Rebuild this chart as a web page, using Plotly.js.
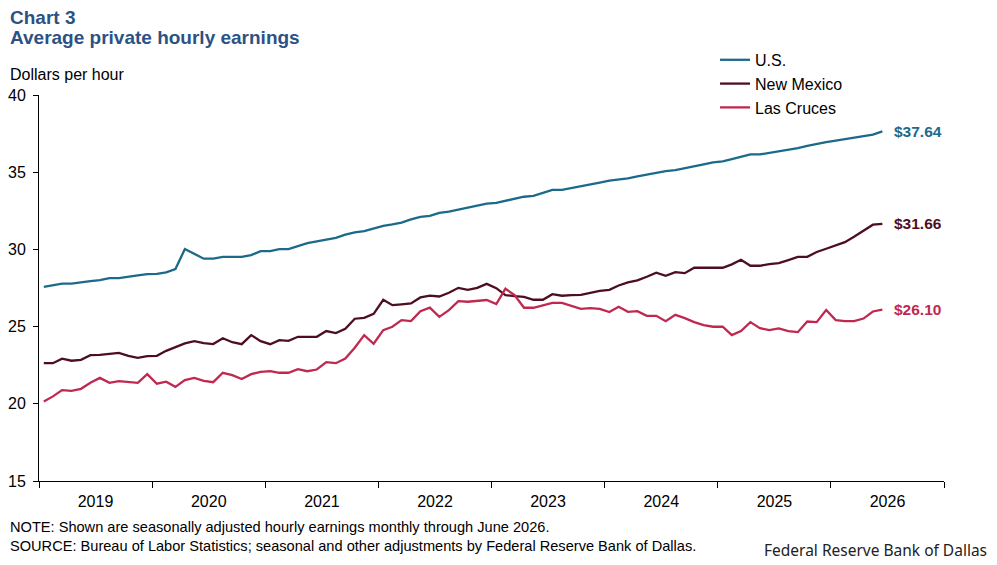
<!DOCTYPE html>
<html>
<head>
<meta charset="utf-8">
<script src="https://cdn.plot.ly/plotly-3.0.1.min.js"></script>
<style>
html,body{margin:0;padding:0;background:#fff;}
#chart{width:997px;height:565px;}
</style>
</head>
<body>
<div id="chart"></div>
<script>
// Monthly, Jan 2019 - Jun 2026
var startYear = 2019, startMonth = 1, nMonths = 90;
var months = [];
for (var k = 0; k < nMonths; k++) {
  var y = startYear + Math.floor((startMonth - 1 + k) / 12);
  var m = ((startMonth - 1 + k) % 12) + 1;
  months.push(y + '-' + (m < 10 ? '0' + m : m) + '-01');
}

var seriesNames = ['U.S.', 'New Mexico', 'Las Cruces'];

var usValues = [
  27.58, 27.69, 27.78, 27.78, 27.88, 27.95, 28.01, 28.14, 28.14, 28.21, 28.32, 28.40,
  28.42, 28.51, 28.73, 30.02, 29.72, 29.40, 29.40, 29.52, 29.52, 29.52, 29.63, 29.89,
  29.89, 30.02, 30.02, 30.21, 30.41, 30.52, 30.65, 30.75, 30.95, 31.10, 31.19, 31.36,
  31.53, 31.62, 31.73, 31.94, 32.11, 32.17, 32.37, 32.44, 32.57, 32.70, 32.83, 32.96,
  33.02, 33.15, 33.28, 33.41, 33.47, 33.67, 33.86, 33.86, 33.97, 34.06, 34.19, 34.32,
  34.45, 34.52, 34.60, 34.73, 34.84, 34.97, 35.07, 35.14, 35.25, 35.38, 35.51, 35.64,
  35.70, 35.85, 36.00, 36.15, 36.15, 36.24, 36.33, 36.43, 36.56, 36.71, 36.84, 36.95,
  37.04, 37.14, 37.23, 37.36, 37.43, 37.64
];

var nmValues = [
  22.63, 22.63, 22.92, 22.79, 22.85, 23.15, 23.17, 23.24, 23.30, 23.11, 22.98, 23.09,
  23.11, 23.43, 23.69, 23.91, 24.06, 23.93, 23.87, 24.25, 23.99, 23.86, 24.45, 24.06,
  23.86, 24.12, 24.08, 24.34, 24.34, 24.34, 24.71, 24.58, 24.86, 25.51, 25.57, 25.83,
  26.74, 26.39, 26.44, 26.50, 26.89, 27.01, 26.95, 27.19, 27.51, 27.38, 27.51, 27.77,
  27.49, 27.04, 26.97, 26.93, 26.74, 26.74, 27.10, 27.00, 27.04, 27.06, 27.19, 27.32,
  27.38, 27.66, 27.86, 27.99, 28.23, 28.49, 28.29, 28.53, 28.46, 28.81, 28.81, 28.81,
  28.81, 29.03, 29.33, 28.94, 28.94, 29.05, 29.11, 29.31, 29.52, 29.52, 29.83, 30.04,
  30.28, 30.47, 30.82, 31.23, 31.60, 31.66
];

var lcValues = [
  20.15, 20.48, 20.89, 20.84, 20.97, 21.36, 21.68, 21.36, 21.47, 21.43, 21.36, 21.92,
  21.30, 21.43, 21.10, 21.53, 21.68, 21.49, 21.40, 22.01, 21.86, 21.60, 21.92, 22.07,
  22.11, 22.01, 22.01, 22.24, 22.11, 22.22, 22.70, 22.63, 22.93, 23.63, 24.45, 23.89,
  24.77, 24.99, 25.42, 25.36, 26.00, 26.23, 25.63, 26.07, 26.65, 26.61, 26.65, 26.72,
  26.46, 27.45, 27.04, 26.22, 26.22, 26.37, 26.54, 26.54, 26.35, 26.15, 26.20, 26.15,
  25.94, 26.28, 25.96, 26.00, 25.70, 25.70, 25.35, 25.76, 25.55, 25.29, 25.09, 24.99,
  24.99, 24.45, 24.71, 25.29, 24.90, 24.77, 24.88, 24.71, 24.64, 25.33, 25.29, 26.07,
  25.42, 25.35, 25.35, 25.52, 25.98, 26.10
];

var yTicks = [15, 20, 25, 30, 35, 40];

var colors = ['#1b6a89', '#4d0f1f', '#c0294f'];
var allValues = [usValues, nmValues, lcValues];
var FONT = 'Liberation Sans, Arial, sans-serif';

var traces = allValues.map(function (vals, i) {
  return {
    type: 'scatter', mode: 'lines',
    x: months, y: vals,
    xperiod: 'M1', xperiodalignment: 'middle',
    name: seriesNames[i],
    line: {color: colors[i], width: 2.3},
    hoverinfo: 'x+y'
  };
});

var annotations = allValues.map(function (vals, i) {
  return {
    xref: 'x', yref: 'y',
    x: '2026-06-16', y: vals[vals.length - 1],
    text: '$' + vals[vals.length - 1].toFixed(2),
    showarrow: false, xanchor: 'left', yanchor: 'middle', xshift: 10,
    font: {family: FONT, size: 15.5, color: colors[i], weight: 'bold'}
  };
});

annotations.push(
  {xref: 'paper', yref: 'paper', x: -0.034, y: 1.202, xanchor: 'left', yanchor: 'middle',
   text: 'Chart 3', showarrow: false, font: {family: FONT, size: 19, color: '#2c5285', weight: 'bold'}},
  {xref: 'paper', yref: 'paper', x: -0.034, y: 1.148, xanchor: 'left', yanchor: 'middle',
   text: 'Average private hourly earnings', showarrow: false, font: {family: FONT, size: 19, color: '#2c5285', weight: 'bold'}},
  {xref: 'paper', yref: 'paper', x: -0.034, y: 1.052, xanchor: 'left', yanchor: 'middle',
   text: 'Dollars per hour', showarrow: false, font: {family: FONT, size: 16, color: '#000'}},
  {xref: 'paper', yref: 'paper', x: -0.034, y: -0.119, xanchor: 'left', yanchor: 'middle',
   text: 'NOTE: Shown are seasonally adjusted hourly earnings monthly through June 2026.', showarrow: false,
   font: {family: FONT, size: 14.6, color: '#000'}},
  {xref: 'paper', yref: 'paper', x: -0.034, y: -0.168, xanchor: 'left', yanchor: 'middle',
   text: 'SOURCE: Bureau of Labor Statistics; seasonal and other adjustments by Federal Reserve Bank of Dallas.', showarrow: false,
   font: {family: FONT, size: 14.6, color: '#000'}},
  {xref: 'paper', yref: 'paper', x: 1.05, y: -0.179, xanchor: 'right', yanchor: 'middle',
   text: 'Federal Reserve Bank of Dallas', showarrow: false,
   font: {family: 'Noto Sans, sans-serif', size: 15.5, color: '#222'}}
);

var layout = {
  width: 997, height: 565,
  margin: {l: 39, r: 53, t: 95, b: 84},
  paper_bgcolor: '#fff', plot_bgcolor: '#fff',
  font: {family: FONT, size: 16, color: '#000'},
  showlegend: true,
  legend: {
    x: 0.747, y: 1.135, xanchor: 'left', yanchor: 'top',
    font: {family: FONT, size: 16, color: '#000'},
    bgcolor: 'rgba(0,0,0,0)',
    itemwidth: 30
  },
  xaxis: {
    type: 'date',
    range: ['2019-01-01', '2027-01-01'],
    tick0: '2019-01-01', dtick: 'M12',
    tickformat: '%Y', ticklabelmode: 'period',
    ticks: 'outside', ticklen: 6, tickcolor: '#000', tickwidth: 1,
    showline: true, linecolor: '#000', linewidth: 1,
    showgrid: false, zeroline: false,
    tickfont: {family: FONT, size: 16, color: '#000'}
  },
  yaxis: {
    range: [15, 40], tickvals: yTicks,
    ticks: 'outside', ticklen: 5, tickcolor: '#000', tickwidth: 1,
    ticklabelstandoff: 4,
    showline: true, linecolor: '#000', linewidth: 1,
    showgrid: false, zeroline: false,
    tickfont: {family: FONT, size: 16, color: '#000'}
  },
  annotations: annotations
};

Plotly.newPlot('chart', traces, layout, {displayModeBar: false, staticPlot: true});
</script>
</body>
</html>
